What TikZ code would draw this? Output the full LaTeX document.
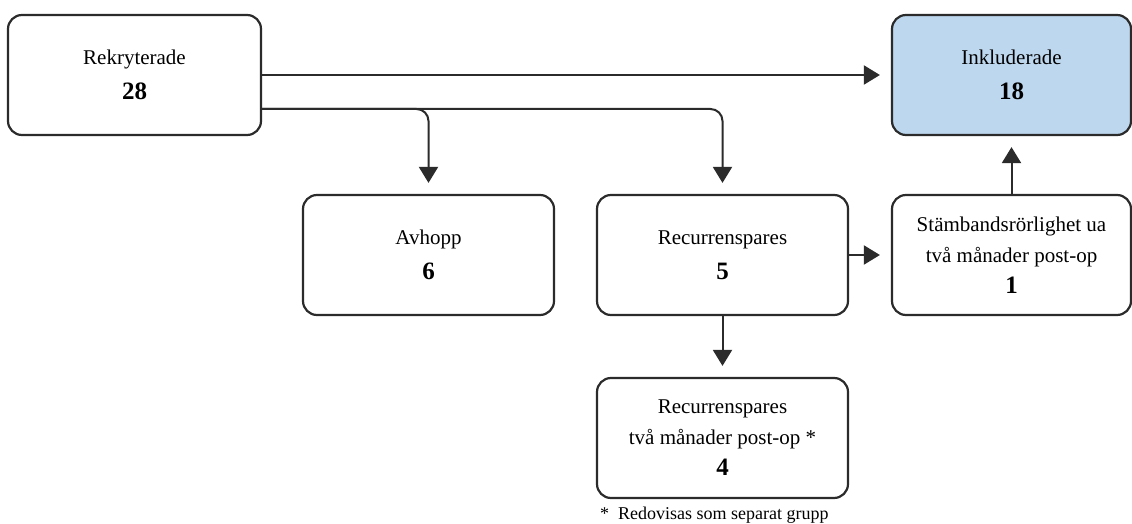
\documentclass[tikz,border=0pt]{standalone}
\usepackage{fontspec}
\setmainfont{Liberation Serif}
\usetikzlibrary{arrows.meta,calc}
\definecolor{boxline}{HTML}{2B2B2B}
\definecolor{inkblue}{HTML}{BDD7EE}
\tikzset{
  flowbox/.style={draw=boxline, line width=2.2pt, rounded corners=14pt,
    minimum width=251pt, minimum height=120pt, inner sep=0pt, align=center,
    font=\fontsize{21}{35}\selectfont},
  tallbox/.style={flowbox, font=\fontsize{21}{31}\selectfont},
  flowarrow/.style={draw=boxline, line width=2pt,
    -{Triangle[length=16pt,width=19pt]}, shorten >=11pt},
}
\newcommand{\antal}[1]{{\fontsize{25}{31}\selectfont\bfseries #1}}
\begin{document}
\begin{tikzpicture}[x=1pt,y=-1pt]
  \useasboundingbox (0,0) rectangle (1132,524);

  % boxes
  \node[flowbox, minimum width=253pt] (rek) at (134.5,75) {Rekryterade\\\antal{28}};
  \node[flowbox, minimum width=239pt, fill=inkblue] (ink) at (1011.5,75) {Inkluderade\\\antal{18}};
  \node[flowbox] (avh) at (428.5,255) {Avhopp\\\antal{6}};
  \node[flowbox] (rec) at (722.5,255) {Recurrenspares\\\antal{5}};
  \node[tallbox, minimum width=239pt] (stm) at (1011.5,255) {Stämbandsrörlighet ua\\två månader post-op\\\antal{1}};
  \node[tallbox] (rectva) at (722.5,438) {Recurrenspares\\två månader post-op *\\\antal{4}};
  \node[anchor=base west, inner sep=0pt, font=\fontsize{18}{20}\selectfont] (note) at (600,519) {*\ \ Redovisas som separat grupp};

  % arrows
  \coordinate (split) at ($(rek.east)+(0,34)$);
  \draw[flowarrow] (rek.east) -- (ink.west);
  \draw[flowarrow, rounded corners=12pt] (split) -| (avh.north);
  \draw[flowarrow, rounded corners=12pt] (split) -| (rec.north);
  \draw[flowarrow] (rec.east) -- (stm.west);
  \draw[flowarrow] (stm.north) -- (ink.south);
  \draw[flowarrow] (rec.south) -- (rectva.north);
\end{tikzpicture}
\end{document}
